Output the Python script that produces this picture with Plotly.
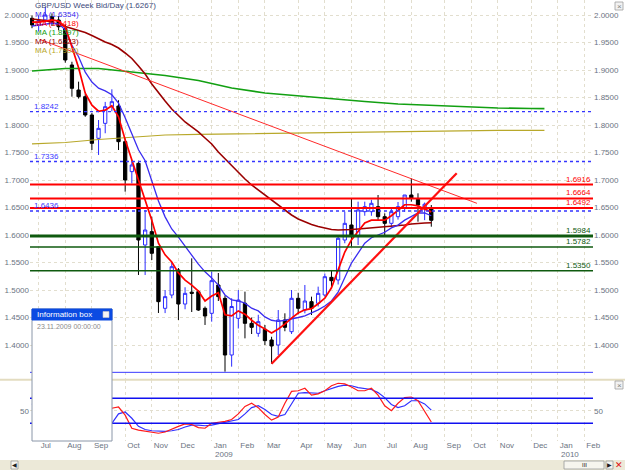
import plotly.graph_objects as go
import pandas as pd

# ---------------- data ----------------
bar_dates = pd.date_range("2008-06-30", periods=61, freq="7D")  # weekly bars (Monday dated)

opens = [1.9940, 1.9820, 1.9910, 1.9970, 1.9909, 1.9758, 1.9091, 1.8636, 1.8515, 1.8182,
         1.7758, 1.8030, 1.8333, 1.8345, 1.7697, 1.7152, 1.7303, 1.5818, 1.6061, 1.5788,
         1.4667, 1.4909, 1.5364, 1.4745, 1.4960, 1.4970, 1.4667, 1.4576, 1.5091, 1.4848,
         1.3818, 1.4485, 1.4758, 1.4394, 1.4212, 1.4285, 1.4091, 1.4000, 1.4455, 1.4242,
         1.4849, 1.4636, 1.4788, 1.4758, 1.4909, 1.5230, 1.5182, 1.5909, 1.6182, 1.5970,
         1.6424, 1.6424, 1.6515, 1.6333, 1.6212, 1.6333, 1.6485, 1.6727, 1.6648, 1.6480,
         1.6485]
highs = [1.9990, 1.9990, 2.0150, 2.0030, 1.9980, 1.9820, 1.9150, 1.8788, 1.8560, 1.8220,
         1.8091, 1.8420, 1.8649, 1.8450, 1.7750, 1.7364, 1.7350, 1.6455, 1.6333, 1.5800,
         1.5000, 1.5500, 1.5400, 1.5050, 1.5576, 1.5000, 1.4700, 1.5333, 1.5309, 1.4900,
         1.4850, 1.5000, 1.4970, 1.4500, 1.4550, 1.4364, 1.4150, 1.4636, 1.4576, 1.5000,
         1.4950, 1.5091, 1.4879, 1.5061, 1.5300, 1.5364, 1.6000, 1.6424, 1.6667, 1.6606,
         1.6606, 1.6640, 1.6727, 1.6394, 1.6485, 1.6600, 1.6727, 1.7030, 1.6758, 1.6590,
         1.6545]
lows = [1.9760, 1.9700, 1.9850, 1.9800, 1.9720, 1.9133, 1.8515, 1.8480, 1.8150, 1.7545,
        1.7455, 1.7850, 1.8250, 1.7545, 1.6788, 1.6939, 1.5273, 1.5273, 1.5545, 1.4582,
        1.4580, 1.4850, 1.4455, 1.4650, 1.4600, 1.4620, 1.4364, 1.4424, 1.4800, 1.3515,
        1.3606, 1.4300, 1.4121, 1.4200, 1.4150, 1.4000, 1.3660, 1.3818, 1.4250, 1.4200,
        1.4560, 1.4576, 1.4545, 1.4700, 1.4880, 1.5061, 1.5100, 1.5850, 1.5788, 1.5818,
        1.6350, 1.6350, 1.6273, 1.6000, 1.6150, 1.6280, 1.6420, 1.6606, 1.6242, 1.6270,
        1.6151]
closes = [1.9820, 1.9900, 2.0000, 1.9878, 1.9787, 1.9182, 1.8667, 1.8515, 1.8182, 1.7667,
          1.7939, 1.8333, 1.8424, 1.7697, 1.7000, 1.7273, 1.5909, 1.6091, 1.5667, 1.4788,
          1.4879, 1.5424, 1.4745, 1.4939, 1.4939, 1.4636, 1.4527, 1.5170, 1.4879, 1.3818,
          1.4700, 1.4818, 1.4394, 1.4321, 1.4424, 1.4079, 1.3982, 1.4455, 1.4321, 1.4849,
          1.4667, 1.4800, 1.4667, 1.4939, 1.5242, 1.5169, 1.5940, 1.6212, 1.6000, 1.6455,
          1.6515, 1.6576, 1.6333, 1.6212, 1.6424, 1.6515, 1.6727, 1.6667, 1.6545, 1.6560,
          1.6267]

ma_red = [1.987, 1.987, 1.989, 1.991, 1.989, 1.978, 1.942, 1.904, 1.858, 1.836,
          1.825, 1.827, 1.835, 1.815, 1.773, 1.736, 1.700, 1.664, 1.627, 1.585,
          1.564, 1.551, 1.531, 1.518, 1.509, 1.498, 1.480, 1.489, 1.495, 1.455,
          1.453, 1.462, 1.456, 1.445, 1.436, 1.429, 1.422, 1.429, 1.438, 1.449,
          1.458, 1.464, 1.466, 1.475, 1.485, 1.504, 1.535, 1.569, 1.591, 1.607,
          1.622, 1.627, 1.627, 1.627, 1.635, 1.645, 1.655, 1.655, 1.653, 1.647,
          1.642]
ma_blue = [1.980, 1.982, 1.984, 1.985, 1.984, 1.973, 1.945, 1.924, 1.896, 1.878,
           1.867, 1.862, 1.855, 1.840, 1.813, 1.785, 1.755, 1.735, 1.700, 1.662,
           1.633, 1.611, 1.596, 1.580, 1.562, 1.547, 1.533, 1.522, 1.509, 1.491,
           1.482, 1.480, 1.476, 1.467, 1.462, 1.451, 1.445, 1.443, 1.445, 1.447,
           1.450, 1.453, 1.458, 1.464, 1.471, 1.480, 1.496, 1.524, 1.549, 1.567,
           1.585, 1.595, 1.600, 1.605, 1.613, 1.618, 1.627, 1.633, 1.640, 1.640,
           1.635]
ma_darkred = [1.9927, 1.9918, 1.9900, 1.9864, 1.9827, 1.9800, 1.9764, 1.9718, 1.9682, 1.9627,
              1.9564, 1.9509, 1.9464, 1.9400, 1.9309, 1.9209, 1.9073, 1.8927, 1.8745, 1.8582,
              1.8436, 1.8291, 1.8164, 1.8055, 1.7964, 1.7873, 1.7764, 1.7655, 1.7509, 1.7382,
              1.7255, 1.7127, 1.7018, 1.6909, 1.6818, 1.6727, 1.6636, 1.6545, 1.6455, 1.6364,
              1.6291, 1.6236, 1.6191, 1.6155, 1.6122, 1.6100, 1.6091, 1.6091, 1.6100, 1.6109,
              1.6118, 1.6127, 1.6140, 1.6151, 1.6164, 1.6173, 1.6182, 1.6200, 1.6213, 1.6218,
              1.6223]
slow_weeks = [0, 5, 10, 15, 20, 25, 30, 35, 40, 45, 50, 55, 60, 65, 70, 75, 77]
ma_green = [1.8982, 1.9027, 1.9027, 1.8964, 1.8900, 1.8809, 1.8673, 1.8582, 1.8527, 1.8473,
            1.8427, 1.8382, 1.8355, 1.8327, 1.8309, 1.8300, 1.8297]
ma_olive = [1.7655, 1.7682, 1.7736, 1.7782, 1.7818, 1.7831, 1.7840, 1.7849, 1.7858, 1.7867,
            1.7876, 1.7885, 1.7894, 1.7899, 1.7902, 1.7903, 1.7903]

osc_fast = [72, 78, 80, 74, 62, 38, 18, 12, 10, 8, 22, 45, 54, 56, 43, 22, 19, 17, 16, 14,
            16, 21, 25, 29, 28, 23, 22, 30, 31, 33, 36, 45, 57, 62, 55, 44, 35, 40, 62, 81,
            82, 86, 75, 77, 82, 90, 94, 93, 88, 82, 82, 86, 75, 58, 50, 62, 71, 72, 66, 48, 32]
osc_slow = [60, 68, 74, 76, 72, 60, 40, 22, 14, 10, 12, 22, 30, 45, 48, 38, 25, 20, 18, 17,
            17, 18, 20, 24, 27, 27, 26, 27, 29, 31, 33, 36, 45, 55, 58, 52, 44, 41, 44, 60,
            78, 79, 78, 78, 82, 86, 89, 91, 90, 87, 85, 84, 79, 71, 60, 55, 58, 66, 66, 61, 51]
osc_levels = [70, 30]

red_levels = [1.6916, 1.6664, 1.6492]
green_levels = [1.5984, 1.5782, 1.5350]
green_widths = [3, 1.6, 1.6]
blue_dot_levels = [1.8242, 1.7336, 1.6436]
support_level = 1.3503

trend_down_t = ["2008-07-08 10:00", "2009-10-11 00:00"]
trend_down_p = [1.9555, 1.6576]
trend_up_t = ["2009-03-09 00:00", "2009-09-19 17:00"]
trend_up_p = [1.3660, 1.7122]

month_ticks = ["2008-07-07", "2008-08-04", "2008-09-01", "2008-10-06", "2008-11-03",
               "2008-12-01", "2009-01-05", "2009-02-02", "2009-03-02", "2009-04-06",
               "2009-05-04", "2009-06-01", "2009-07-06", "2009-08-03", "2009-09-07",
               "2009-10-05", "2009-11-02", "2009-12-07", "2010-01-04", "2010-02-01"]
month_labels = ["Jul", "Aug", "Sep", "Oct", "Nov", "Dec", "Jan", "Feb", "Mar", "Apr",
                "May", "Jun", "Jul", "Aug", "Sep", "Oct", "Nov", "Dec", "Jan", "Feb"]
year_marks = [("2009-01-05", "2009"), ("2010-01-04", "2010")]
price_ticks = [1.40, 1.45, 1.50, 1.55, 1.60, 1.65, 1.70, 1.75, 1.80, 1.85, 1.90, 1.95, 2.00]

title_text = "GBP/USD Week Bid/Day (1.6267)"
ma_labels = [("MA (1.6354)", "#3a2cf0"), ("MA (1.6418)", "#ff0000"),
             ("MA (1.8297)", "#12a012"), ("MA (1.6223)", "#9a0000"),
             ("MA (1.7903)", "#b8a82a")]

# ---------------- layout geometry ----------------
W, H = 625, 470
ML, MR, MT, MB = 30, 32, 0, 29
PW, PH = W - ML - MR, H - MT - MB


def fx(px):
    return (px - ML) / PW


def fy(py):
    return (PH - py) / PH


start = pd.Timestamp("2008-06-30")
px_per_day = 6.655 / 7.0
x_range = [start + pd.Timedelta(days=(ML - 32) / px_per_day),
           start + pd.Timedelta(days=(ML + PW - 32) / px_per_day)]
slow_dates = [start + pd.Timedelta(weeks=k) for k in slow_weeks]

main_dom = [fy(379), 1.0]
main_rng = [2.0 - (379 - 15) / 550.0, 2.0 + 15 / 550.0]
ind_dom = [0.0, fy(380)]
ind_rng = [(442 - PH) / 0.625, (442 - 380) / 0.625]

FONT = "Liberation Sans"
AX_COL = "#6b7482"
GRID = "#e2dece"

fig = go.Figure()

fig.add_trace(go.Candlestick(
    x=bar_dates, open=opens, high=highs, low=lows, close=closes,
    increasing=dict(line=dict(color="#2b2bff", width=1), fillcolor="#ffffff"),
    decreasing=dict(line=dict(color="#000000", width=1), fillcolor="#000000"),
    whiskerwidth=0, showlegend=False, xaxis="x", yaxis="y"))

for vals, dts, col, w in [(ma_green, slow_dates, "#12a012", 1.6),
                          (ma_olive, slow_dates, "#b8a82a", 1.2),
                          (ma_darkred, bar_dates, "#9a0000", 1.6),
                          (ma_blue, bar_dates, "#3a2cf0", 1.3),
                          (ma_red, bar_dates, "#ff0000", 1.7)]:
    fig.add_trace(go.Scatter(x=dts, y=vals, mode="lines", line=dict(color=col, width=w),
                             showlegend=False, xaxis="x", yaxis="y", hoverinfo="skip"))

fig.add_trace(go.Scatter(x=trend_down_t, y=trend_down_p, mode="lines",
                         line=dict(color="#ff2a2a", width=1), showlegend=False,
                         xaxis="x", yaxis="y"))
fig.add_trace(go.Scatter(x=trend_up_t, y=trend_up_p, mode="lines",
                         line=dict(color="#ff1010", width=2.2), showlegend=False,
                         xaxis="x", yaxis="y"))

fig.add_trace(go.Scatter(x=bar_dates, y=osc_slow, mode="lines", line=dict(color="#3030ff", width=1.2),
                         showlegend=False, xaxis="x2", yaxis="y2"))
fig.add_trace(go.Scatter(x=bar_dates, y=osc_fast, mode="lines", line=dict(color="#ff1a1a", width=1.2),
                         showlegend=False, xaxis="x2", yaxis="y2"))

# dotted blue levels drawn as traces spanning the x range
for lv in blue_dot_levels:
    fig.add_trace(go.Scatter(x=x_range, y=[lv, lv], mode="lines",
                             line=dict(color="#3535ff", width=1.3, dash="dot"),
                             showlegend=False, xaxis="x", yaxis="y", hoverinfo="skip"))

shapes = []
for lv in red_levels:
    shapes.append(dict(type="line", xref="paper", yref="y", x0=0, x1=1, y0=lv, y1=lv,
                       line=dict(color="#ff0000", width=2)))
for lv, w in zip(green_levels, green_widths):
    shapes.append(dict(type="line", xref="paper", yref="y", x0=0, x1=1, y0=lv, y1=lv,
                       line=dict(color="#0f5a0f", width=w)))
shapes.append(dict(type="line", xref="paper", yref="y", x0=0, x1=1, y0=support_level,
                   y1=support_level, line=dict(color="#3a3aff", width=1)))
for lv in osc_levels:
    shapes.append(dict(type="line", xref="paper", yref="y2", x0=0, x1=1, y0=lv, y1=lv,
                       line=dict(color="#1010f0", width=1.4)))
# pane separator
shapes.append(dict(type="line", xref="paper", yref="paper", x0=fx(0), x1=fx(W),
                   y0=fy(379.8), y1=fy(379.8), line=dict(color="#e3dcc0", width=2)))
# small close buttons at the top-right of each pane
for ytop in (2, 381):
    shapes.append(dict(type="rect", xref="paper", yref="paper", x0=fx(615), x1=fx(623),
                       y0=fy(ytop + 8), y1=fy(ytop), fillcolor="#f2f2f2",
                       line=dict(color="#a0a0a0", width=0.8), layer="above"))
# information box
shapes.append(dict(type="rect", xref="paper", yref="paper", x0=fx(32), x1=fx(112),
                   y0=fy(441), y1=fy(309), fillcolor="#ffffff",
                   line=dict(color="#8a96a8", width=1), layer="above"))
shapes.append(dict(type="rect", xref="paper", yref="paper", x0=fx(32), x1=fx(112),
                   y0=fy(320), y1=fy(309), fillcolor="#0b4be2",
                   line=dict(color="#0b4be2", width=1), layer="above"))
shapes.append(dict(type="rect", xref="paper", yref="paper", x0=fx(103), x1=fx(109),
                   y0=fy(317.5), y1=fy(311.5), fillcolor="#f4f4f4",
                   line=dict(color="#c8c8c8", width=0.6), layer="above"))
# bottom toolbar with scrollbar
shapes.append(dict(type="rect", xref="paper", yref="paper", x0=fx(0), x1=fx(W),
                   y0=fy(H), y1=fy(460), fillcolor="#ece9d8", line=dict(width=0), layer="above"))
shapes.append(dict(type="rect", xref="paper", yref="paper", x0=fx(564), x1=fx(604),
                   y0=fy(469), y1=fy(461), fillcolor="#f6f5ee",
                   line=dict(color="#9a9a9a", width=0.8), layer="above"))
shapes.append(dict(type="rect", xref="paper", yref="paper", x0=fx(606), x1=fx(613),
                   y0=fy(469), y1=fy(461), fillcolor="#f6f5ee",
                   line=dict(color="#9a9a9a", width=0.8), layer="above"))
shapes.append(dict(type="rect", xref="paper", yref="paper", x0=fx(11), x1=fx(18),
                   y0=fy(469), y1=fy(461), fillcolor="#f6f5ee",
                   line=dict(color="#9a9a9a", width=0.8), layer="above"))

ann = []
ann.append(dict(text=title_text, xref="paper", yref="paper", x=fx(33), y=fy(5.5),
                xanchor="left", yanchor="middle", showarrow=False,
                font=dict(family=FONT, size=8, color="#3d4a7a")))
for i, (t, c) in enumerate(ma_labels):
    ann.append(dict(text=t, xref="paper", yref="paper", x=fx(33), y=fy(14.5 + 9 * i),
                    xanchor="left", yanchor="middle", showarrow=False,
                    font=dict(family=FONT, size=8, color=c)))
for lv in red_levels:
    ann.append(dict(text=f"{lv:.4f}", xref="paper", yref="y", x=fx(592), y=lv,
                    xanchor="right", yanchor="bottom", showarrow=False, borderpad=0,
                    font=dict(family=FONT, size=8, color="#ff0000")))
for lv in green_levels:
    ann.append(dict(text=f"{lv:.4f}", xref="paper", yref="y", x=fx(592), y=lv,
                    xanchor="right", yanchor="bottom", showarrow=False, borderpad=0,
                    font=dict(family=FONT, size=8, color="#0f5a0f")))
for lv in blue_dot_levels:
    ann.append(dict(text=f"{lv:.4f}", xref="paper", yref="y", x=fx(33), y=lv,
                    xanchor="left", yanchor="bottom", showarrow=False, borderpad=0,
                    font=dict(family=FONT, size=8, color="#3a3aff")))
for d, t in year_marks:
    ann.append(dict(text=t, xref="x2", yref="paper", x=d, y=fy(455), xanchor="left",
                    yanchor="middle", showarrow=False, xshift=1,
                    font=dict(family=FONT, size=8, color=AX_COL)))
ann.append(dict(text="Information box", xref="paper", yref="paper", x=fx(35), y=fy(314.5),
                xanchor="left", yanchor="middle", showarrow=False,
                font=dict(family=FONT, size=8, color="#ffffff")))
ann.append(dict(text="23.11.2009 00:00:00", xref="paper", yref="paper", x=fx(35), y=fy(326),
                xanchor="left", yanchor="middle", showarrow=False,
                font=dict(family=FONT, size=7, color="#8a8a8a")))
for ytop in (2, 381):
    ann.append(dict(text="×", xref="paper", yref="paper", x=fx(619), y=fy(ytop + 4),
                    xanchor="center", yanchor="middle", showarrow=False,
                    font=dict(family=FONT, size=8, color="#808080")))
ann.append(dict(text="III", xref="paper", yref="paper", x=fx(584), y=fy(465),
                xanchor="center", yanchor="middle", showarrow=False,
                font=dict(family=FONT, size=6, color="#202020")))
ann.append(dict(text="▶", xref="paper", yref="paper", x=fx(609.5), y=fy(465),
                xanchor="center", yanchor="middle", showarrow=False,
                font=dict(family=FONT, size=6, color="#202020")))
ann.append(dict(text="◀", xref="paper", yref="paper", x=fx(14.5), y=fy(465),
                xanchor="center", yanchor="middle", showarrow=False,
                font=dict(family=FONT, size=6, color="#202020")))
ann.append(dict(text="✕", xref="paper", yref="paper", x=fx(619), y=fy(465),
                xanchor="center", yanchor="middle", showarrow=False,
                font=dict(family=FONT, size=9, color="#e01010")))

axis_common = dict(showline=False, zeroline=False, ticks="", fixedrange=True)
xcommon = dict(type="date", range=x_range, tickvals=month_ticks, showgrid=True,
               gridcolor=GRID, griddash="dot", gridwidth=1, **axis_common)

fig.update_layout(
    width=W, height=H, margin=dict(l=ML, r=MR, t=MT, b=MB),
    paper_bgcolor="#ffffff", plot_bgcolor="#ffffff", showlegend=False,
    shapes=shapes, annotations=ann,
    xaxis=dict(domain=[0, 1], anchor="y", showticklabels=False,
               rangeslider=dict(visible=False), **xcommon),
    xaxis2=dict(domain=[0, 1], anchor="y2", matches="x", ticktext=month_labels,
                showticklabels=True, ticklabelposition="outside right", ticklabelshift=2,
                ticklabelstandoff=-2,
                tickfont=dict(family=FONT, size=8, color=AX_COL), **xcommon),
    yaxis=dict(domain=main_dom, range=main_rng, side="right", anchor="x",
               tickvals=price_ticks, tickformat=".4f", showgrid=True, gridcolor=GRID,
               griddash="dot", tickfont=dict(family=FONT, size=8, color=AX_COL), **axis_common),
    yaxis3=dict(domain=main_dom, range=main_rng, side="left", overlaying="y", anchor="x",
                tickvals=price_ticks, tickformat=".4f", showgrid=False,
                tickfont=dict(family=FONT, size=8, color=AX_COL), **axis_common),
    yaxis2=dict(domain=ind_dom, range=ind_rng, side="right", anchor="x2",
                tickvals=[50], showgrid=True, gridcolor=GRID, griddash="dot",
                tickfont=dict(family=FONT, size=8, color=AX_COL), **axis_common),
    yaxis4=dict(domain=ind_dom, range=ind_rng, side="left", overlaying="y2", anchor="x2",
                tickvals=[50], showgrid=False,
                tickfont=dict(family=FONT, size=8, color=AX_COL), **axis_common),
)
# invisible traces to activate the left-side mirror axes
fig.add_trace(go.Scatter(x=[bar_dates[0]], y=[closes[0]], mode="markers", opacity=0,
                         xaxis="x", yaxis="y3", showlegend=False, hoverinfo="skip"))
fig.add_trace(go.Scatter(x=[bar_dates[0]], y=[50], mode="markers", opacity=0,
                         xaxis="x2", yaxis="y4", showlegend=False, hoverinfo="skip"))

fig.write_html("out.html")
